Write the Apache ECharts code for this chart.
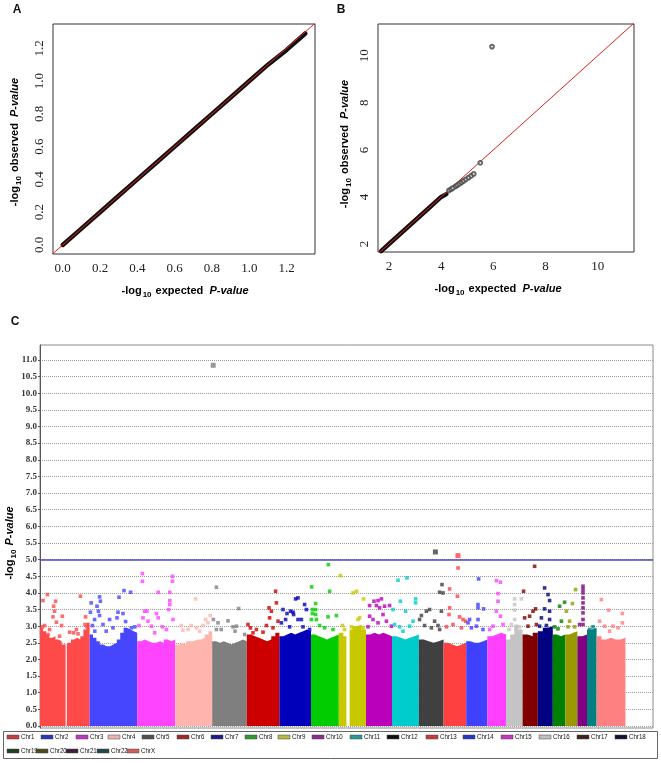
<!DOCTYPE html>
<html><head><meta charset="utf-8">
<script src="https://cdn.jsdelivr.net/npm/echarts@6/dist/echarts.min.js"></script>
<style>html,body{margin:0;padding:0;background:#fff}#c{width:661px;height:763px}</style>
</head><body><div id="c"></div>
<script>
// ---------- Panel A: QQ plot (all SNPs) ----------
const qqA_expected = [0, 0.1, 0.2, 0.3, 0.4, 0.5, 0.6, 0.7, 0.8, 0.9, 1.0, 1.1, 1.2, 1.30];
const qqA_observed = [0, 0.1, 0.2, 0.3, 0.4, 0.5, 0.6, 0.7, 0.8, 0.9, 1.0, 1.1, 1.19, 1.29];
const ticksA = [0, 0.2, 0.4, 0.6, 0.8, 1.0, 1.2];

// ---------- Panel B: QQ plot (top tail) ----------
const qqB_expected_dense = [1.7, 2.0, 2.5, 3.0, 3.5, 3.8, 4.0, 4.2];
const qqB_observed_dense = [1.7, 2.0, 2.5, 3.0, 3.5, 3.8, 4.0, 4.12];
const qqB_expected_sparse = [4.3, 4.38, 4.45, 4.55, 4.62, 4.7, 4.78, 4.86, 4.95, 5.05, 5.15, 5.25, 5.5, 5.95];
const qqB_observed_sparse = [4.28, 4.33, 4.38, 4.45, 4.5, 4.56, 4.62, 4.68, 4.75, 4.82, 4.9, 4.98, 5.45, 10.39];
const ticksB = [2, 4, 6, 8, 10];

// ---------- Panel C: Manhattan plot ----------
const chromosomes = ['Chr1','Chr2','Chr3','Chr4','Chr5','Chr6','Chr7','Chr8','Chr9','Chr10','Chr11','Chr12',
  'Chr13','Chr14','Chr15','Chr16','Chr17','Chr18','Chr19','Chr20','Chr21','Chr22','ChrX'];
const chrLengths = [248,238,190,185,173,163,158,139,136,130,134,124,113,106,93,83,76,75,62,61,48,48,144];
// dense (solid) envelope of -log10 P per chromosome, sampled evenly along each chromosome
const envelopes = [
  [2.95,2.85,2.75,2.65,2.7,2.6,2.55,2.45,2.5,2.5,2.6,2.65,2.6,2.7,2.9,3.1],
  [2.75,2.65,2.55,2.45,2.4,2.4,2.45,2.5,2.6,2.8,2.95,2.9,2.85,2.8],
  [2.55,2.6,2.55,2.5,2.5,2.55,2.5,2.6,2.55,2.6],
  [2.45,2.5,2.45,2.55,2.55,2.6,2.6,2.65,2.75,2.85],
  [2.55,2.5,2.55,2.5,2.45,2.5,2.55,2.6,2.55],
  [2.75,2.7,2.65,2.6,2.55,2.6,2.7,2.8],
  [2.7,2.75,2.8,2.75,2.8,2.85,2.9,2.85],
  [2.75,2.7,2.65,2.6,2.65,2.7,2.75],
  [2.8,2.7,2.9,3.0,3.05,2.9],
  [2.75,2.8,2.75,2.8,2.75,2.7],
  [2.7,2.65,2.6,2.65,2.7,2.75],
  [2.6,2.55,2.5,2.55,2.6],
  [2.5,2.45,2.4,2.45,2.5],
  [2.55,2.5,2.5,2.55,2.6],
  [2.7,2.75,2.8,2.75],
  [2.6,2.75,3.05,2.9],
  [2.75,2.7,2.8],
  [2.85,2.95,3.0],
  [2.75,2.7,2.75],
  [2.75,2.8,2.85],
  [2.7,2.75],
  [2.9,2.95],
  [2.7,2.6,2.65,2.6,2.6,2.65]
];
// individual SNPs above the dense band: [chromosome index, cumulative position, -log10 P]
const topHits = [
  [0,15,3.77],[0,37,3.95],[0,78,3.75],[0,68,3.6],[0,73,3.45],[0,65,3.28],[0,82,3.12],[0,112,3.3],[0,108,3.02],[0,48,2.9],[0,23,3.02],[0,12,2.98],[0,40,2.75],[0,202,3.9],[0,228,3.28],[0,225,3.05],[0,235,2.98],[0,190,2.77],[0,168,2.8],[0,148,2.82],[0,182,2.9],[0,98,2.7],
  [1,252,3.42],[1,256,3.7],[1,298,3.88],[1,302,3.75],[1,285,3.6],[1,292,3.45],[1,298,3.32],[1,273,3.2],[1,262,3.02],[1,315,3.05],[1,348,3.2],[1,390,3.42],[1,385,3.25],[1,415,3.38],[1,395,3.87],[1,420,4.07],[1,453,4.02],[1,428,3.14],[1,457,2.95],[1,474,2.98],[1,365,2.95],[1,331,2.85],[1,274,2.85],
  [2,512,4.58],[2,512,4.35],[2,662,4.5],[2,662,4.35],[2,591,4.02],[2,649,4.02],[2,649,3.77],[2,649,3.65],[2,644,3.5],[2,523,3.45],[2,535,3.45],[2,515,3.25],[2,495,3.02],[2,582,3.38],[2,591,3.25],[2,665,3.2],[2,612,2.98],[2,557,3.0],[2,540,3.15],[2,632,2.9],[2,573,2.8],
  [3,778,3.82],[3,851,3.32],[3,828,3.2],[3,756,3.02],[3,815,3.02],[3,706,3.02],[3,715,2.88],[3,798,2.85],[3,840,3.1],[3,740,2.9],[3,782,2.95],
  [4,866,10.84],[4,882,4.17],[4,867,3.2],[4,890,3.1],[4,940,3.16],[4,965,2.98],[4,993,3.53],[4,982,3.0],[4,1023,2.75],[4,906,2.9],[4,975,2.85],[4,882,2.9],
  [5,1178,4.05],[5,1182,3.7],[5,1145,3.55],[5,1157,3.45],[5,1148,3.25],[5,1132,3.02],[5,1040,3.05],[5,1052,2.95],[5,1082,2.9],[5,1165,2.95],[5,1115,2.82],[5,1190,3.15],[5,1065,2.8],
  [6,1278,3.82],[6,1290,3.85],[6,1215,3.5],[6,1235,3.38],[6,1253,3.45],[6,1268,3.35],[6,1290,3.2],[6,1307,3.2],[6,1323,3.65],[6,1332,3.5],[6,1265,3.42],[6,1228,3.2],[6,1207,3.1],[6,1248,2.98],[6,1315,2.98],[6,1348,2.9],
  [7,1442,4.85],[7,1358,4.18],[7,1448,4.05],[7,1378,3.68],[7,1378,3.5],[7,1362,3.5],[7,1362,3.38],[7,1378,3.35],[7,1357,3.2],[7,1382,3.2],[7,1440,3.28],[7,1482,3.32],[7,1398,3.02],[7,1423,2.95],[7,1465,2.9],
  [8,1502,4.52],[8,1582,4.05],[8,1565,4.0],[8,1618,3.82],[8,1598,3.25],[8,1590,3.2],[8,1512,3.02],[8,1523,2.9],[8,1615,2.95],[8,1557,2.98],
  [9,1648,3.62],[9,1670,3.75],[9,1690,3.77],[9,1707,3.82],[9,1682,3.62],[9,1698,3.55],[9,1723,3.6],[9,1748,3.62],[9,1648,3.3],[9,1665,3.2],[9,1690,3.1],[9,1715,3.35],[9,1732,3.15],[9,1757,3.0],[9,1640,2.98],
  [10,1790,4.38],[10,1835,4.45],[10,1802,3.75],[10,1765,3.5],[10,1828,3.45],[10,1878,3.82],[10,1878,3.7],[10,1865,3.15],[10,1773,3.05],[10,1798,2.98],[10,1848,3.0],[10,1815,2.85],
  [11,1977,5.23],[11,2010,4.25],[11,1998,4.02],[11,2015,4.0],[11,1948,3.5],[11,1932,3.45],[11,1907,3.32],[11,1898,3.2],[11,2007,3.45],[11,1973,3.15],[11,1990,3.02],[11,1923,3.02],[11,1957,2.95],[11,1998,2.9],
  [12,2090,5.12],[12,2090,4.75],[12,2048,4.12],[12,2087,3.9],[12,2048,3.55],[12,2045,3.35],[12,2098,3.28],[12,2115,3.2],[12,2128,3.15],[12,2065,3.05],[12,2032,2.98],[12,2107,2.95],
  [13,2193,4.42],[13,2190,3.65],[13,2190,3.55],[13,2218,3.52],[13,2148,3.2],[13,2190,3.2],[13,2182,3.0],[13,2157,2.95],[13,2215,2.9],[13,2140,3.1],
  [14,2282,4.37],[14,2302,4.32],[14,2290,3.98],[14,2290,3.75],[14,2282,3.45],[14,2302,3.3],[14,2265,3.0],[14,2315,3.05],[14,2248,2.9],
  [15,2373,3.82],[15,2407,3.82],[15,2373,3.65],[15,2373,3.48],[15,2373,3.2],[15,2345,2.9],[15,2398,2.98],[15,2357,3.05],
  [16,2473,4.8],[16,2418,4.05],[16,2478,3.52],[16,2465,3.45],[16,2448,3.3],[16,2423,3.25],[16,2440,3.0],[16,2482,3.05],
  [17,2523,4.15],[17,2540,3.95],[17,2548,3.77],[17,2523,3.52],[17,2548,3.45],[17,2548,3.2],[17,2507,3.25],[17,2498,3.0],[17,2532,3.02],
  [18,2598,3.6],[18,2623,3.72],[18,2573,2.98],[18,2607,3.15],[18,2590,2.92],
  [19,2678,4.1],[19,2662,3.68],[19,2632,3.45],[19,2648,3.15],[19,2673,2.98],[19,2640,2.98],
  [20,2715,4.2],[20,2715,4.1],[20,2715,4.0],[20,2715,3.85],[20,2715,3.7],[20,2715,3.55],[20,2715,3.4],[20,2715,3.2],[20,2715,3.05],[20,2698,3.05],
  [21,2765,2.98],[21,2748,2.9],
  [22,2807,3.8],[22,2843,3.48],[22,2912,3.38],[22,2798,3.15],[22,2823,3.0],[22,2865,3.0],[22,2912,3.1],[22,2890,2.95],[22,2848,2.85]
];
// unassayed gaps (cumulative position start, end)
const gaps = [[128,134],[1532,1548]];
const threshold = 5.0;
const ticksC = [0,0.5,1,1.5,2,2.5,3,3.5,4,4.5,5,5.5,6,6.5,7,7.5,8,8.5,9,9.5,10,10.5,11];
const genomeSpan = 3065;

// ---------- styles / layout ----------
const chrColors = ['#ff4a4a','#4646ff','#ff44ff','#ffb4ae','#7f7f7f','#cc0000','#0000bb','#00cc00','#c8c800','#bb00bb',
  '#00cccc','#404040','#ff4040','#4040ff','#ff40ff','#c4c4c4','#800000','#000080','#008000','#999900','#800080','#008080','#ff8080'];
const legendColors = ['#c83c3c','#2838b8','#c038c0','#f0b4b0','#505050','#a02828','#1c1c88','#2c9c2c','#b8b840','#8c2c8c',
  '#2c9898','#101010','#c83c3c','#2838c0','#c038c0','#c0c0c0','#402020','#101030','#204020','#504c20','#402040','#204848','#d06060'];
const legendX = [7,41,76,108,142,177,211,245,278,312,350,387,426,463,501,539,577,615, 7,36,66,97,127];
const legendY = [737,737,737,737,737,737,737,737,737,737,737,737,737,737,737,737,737,737, 751,751,751,751,751];

const chart = echarts.init(document.getElementById('c'));
const zip = (a, b) => a.map((v, i) => [v, b[i]]);
const SANS = 'Liberation Sans, Arial, sans-serif';
const SERIF = 'Liberation Serif, Times New Roman, serif';

const chrStart = [];
chrLengths.reduce((acc, l, i) => { chrStart[i] = acc; return acc + l; }, 0);

const series = [];
// Panel A
series.push({type:'line', xAxisIndex:0, yAxisIndex:0, data: zip(qqA_expected, qqA_observed), symbol:'none',
  lineStyle:{color:'#111', width:4.5, cap:'round', join:'round'}, z:2, silent:true});
series.push({type:'line', xAxisIndex:0, yAxisIndex:0, data:[[-0.1,-0.1],[1.4,1.4]], symbol:'none',
  lineStyle:{color:'#e02020', width:1}, z:3, silent:true});
// Panel B
series.push({type:'line', xAxisIndex:1, yAxisIndex:1, data: zip(qqB_expected_dense, qqB_observed_dense), symbol:'none',
  lineStyle:{color:'#111', width:4.5, cap:'round', join:'round'}, z:2, silent:true});
series.push({type:'line', xAxisIndex:1, yAxisIndex:1, data:[[1,1],[12,12]], symbol:'none',
  lineStyle:{color:'#e02020', width:1}, z:3, silent:true});
series.push({type:'scatter', xAxisIndex:1, yAxisIndex:1, data: zip(qqB_expected_sparse, qqB_observed_sparse),
  symbol:'emptyCircle', symbolSize:3.8, itemStyle:{color:'#444', borderWidth:0.7}, z:4, silent:true});

// Panel C: dense band per chromosome
chromosomes.forEach((name, i) => {
  const env = envelopes[i], n = env.length, step = chrLengths[i] / n;
  const data = env.map((h, k) => [chrStart[i] + k * step, h]);
  data.push([chrStart[i] + chrLengths[i], env[n - 1]]);
  series.push({type:'line', name, xAxisIndex:2, yAxisIndex:2, data, step:'end', symbol:'none',
    lineStyle:{width:0, color:chrColors[i]}, itemStyle:{color:chrColors[i]},
    areaStyle:{color:chrColors[i], opacity:1}, z:2, silent:true});
});
// gaps + threshold line
series.push({type:'custom', xAxisIndex:2, yAxisIndex:2, data:gaps, z:3, silent:true,
  renderItem:(params, api) => {
    const p0 = api.coord([api.value(0), 3.2]);
    const p1 = api.coord([api.value(1), 0]);
    return {type:'rect', shape:{x:p0[0], y:p0[1], width:Math.max(1, p1[0]-p0[0]), height:p1[1]-p0[1]}, style:{fill:'#fff'}};
  },
  markLine:{silent:true, symbol:'none', label:{show:false}, data:[{yAxis:threshold}],
    lineStyle:{color:'#4848cc', width:1.5, type:'solid'}}
});
// individual SNPs
chromosomes.forEach((name, i) => {
  series.push({type:'scatter', name, xAxisIndex:2, yAxisIndex:2,
    data: topHits.filter(h => h[0] === i).map(h => [h[1], h[2]]),
    symbol:'rect', symbolSize:(v) => v[1] > 5 ? 5 : 3.6, itemStyle:{color:chrColors[i]}, z:5, silent:true});
});

const titleRich = {
  a:{fontFamily:SANS, fontWeight:'bold', fontSize:11, color:'#111', lineHeight:16, verticalAlign:'middle'},
  s:{fontFamily:SANS, fontWeight:'bold', fontSize:8, color:'#111', lineHeight:8, padding:[8,1,0,1], verticalAlign:'bottom'},
  i:{fontFamily:SANS, fontWeight:'bold', fontStyle:'italic', fontSize:11, color:'#111', lineHeight:16, verticalAlign:'middle'}
};
const titleText = (x, y, text, rot) => ({type:'text', x, y, rotation: rot ? Math.PI/2 : 0, silent:true,
  style:{text, rich:titleRich, align:'center', verticalAlign:'middle'}});

// legend drawn as graphic swatches + (condensed) labels
const legendGraphics = [];
chromosomes.forEach((name, i) => {
  legendGraphics.push({type:'rect', silent:true, shape:{x:legendX[i], y:legendY[i]-2, width:12, height:4},
    style:{fill:legendColors[i], stroke:'#444', lineWidth:0.5}});
  legendGraphics.push({type:'group', silent:true, x:legendX[i]+14, y:legendY[i], scaleX:0.82,
    children:[{type:'text', x:0, y:0, style:{text:name, font:'7.5px ' + SANS, fill:'#111', align:'left', verticalAlign:'middle'}}]});
});

const qqXAxis = (grid, min, max, ticks, fmt) => ({type:'value', gridIndex:grid, min, max,
  axisLine:{show:false}, splitLine:{show:false}, axisTick:{show:false, customValues:ticks},
  axisLabel:{customValues:ticks, formatter:fmt, fontFamily:SERIF, fontSize:13, color:'#222', margin:8}});
const qqYAxis = (grid, min, max, ticks, fmt) => ({type:'value', gridIndex:grid, min, max,
  axisLine:{show:false}, splitLine:{show:false}, axisTick:{show:false, customValues:ticks},
  axisLabel:{customValues:ticks, formatter:fmt, rotate:90, fontFamily:SERIF, fontSize:13, color:'#222', margin:7}});

const option = {
  animation:false,
  backgroundColor:'#fff',
  grid:[
    {left:53, top:24, width:262, height:230, show:true, borderColor:'#333', borderWidth:1},
    {left:378, top:24, width:256, height:228, show:true, borderColor:'#333', borderWidth:1},
    {left:40, top:345, width:613, height:383, show:true, borderColor:'#8a8a8a', borderWidth:1}
  ],
  xAxis:[
    qqXAxis(0, -0.052, 1.352, ticksA, v => v.toFixed(1)),
    qqXAxis(1, 1.58, 11.39, ticksB, v => String(v)),
    {type:'value', gridIndex:2, min:0, max:genomeSpan, axisLine:{show:false}, axisTick:{show:false}, axisLabel:{show:false}, splitLine:{show:false}}
  ],
  yAxis:[
    qqYAxis(0, -0.055, 1.348, ticksA, v => v.toFixed(1)),
    qqYAxis(1, 1.66, 11.35, ticksB, v => String(v)),
    {type:'value', gridIndex:2, min:-0.06, max:11.45,
      axisLine:{show:true, lineStyle:{color:'#555', width:1}},
      axisTick:{show:true, customValues:ticksC, length:2, lineStyle:{color:'#555'}},
      axisLabel:{customValues:ticksC, formatter:v => v.toFixed(1), fontFamily:SERIF, fontWeight:'bold', fontSize:9, color:'#333', margin:3},
      splitLine:{show:true, lineStyle:{color:'#9a9a9a', type:'dotted', width:1}}}
  ],
  graphic:[
    {type:'rect', shape:{x:3.5, y:731.5, width:654, height:27}, style:{fill:'none', stroke:'#666', lineWidth:1}, silent:true, z:-1},
    {type:'text', x:17, y:10, silent:true, style:{text:'A', font:'bold 12px ' + SANS, fill:'#111', align:'center', verticalAlign:'middle'}},
    {type:'text', x:341, y:10, silent:true, style:{text:'B', font:'bold 12px ' + SANS, fill:'#111', align:'center', verticalAlign:'middle'}},
    {type:'text', x:15, y:322, silent:true, style:{text:'C', font:'bold 12px ' + SANS, fill:'#111', align:'center', verticalAlign:'middle'}},
    titleText(185, 291, '{a|-log}{s|10}{a| expected  }{i|P-value}', false),
    titleText(15, 142, '{a|-log}{s|10}{a| observed  }{i|P-value}', true),
    titleText(498, 289, '{a|-log}{s|10}{a| expected  }{i|P-value}', false),
    titleText(345, 144, '{a|-log}{s|10}{a| observed  }{i|P-value}', true),
    titleText(10, 543, '{a|-log}{s|10}{a| }{i|P-value}', true)
  ].concat(legendGraphics),
  series
};
chart.setOption(option);
</script>
</body></html>
